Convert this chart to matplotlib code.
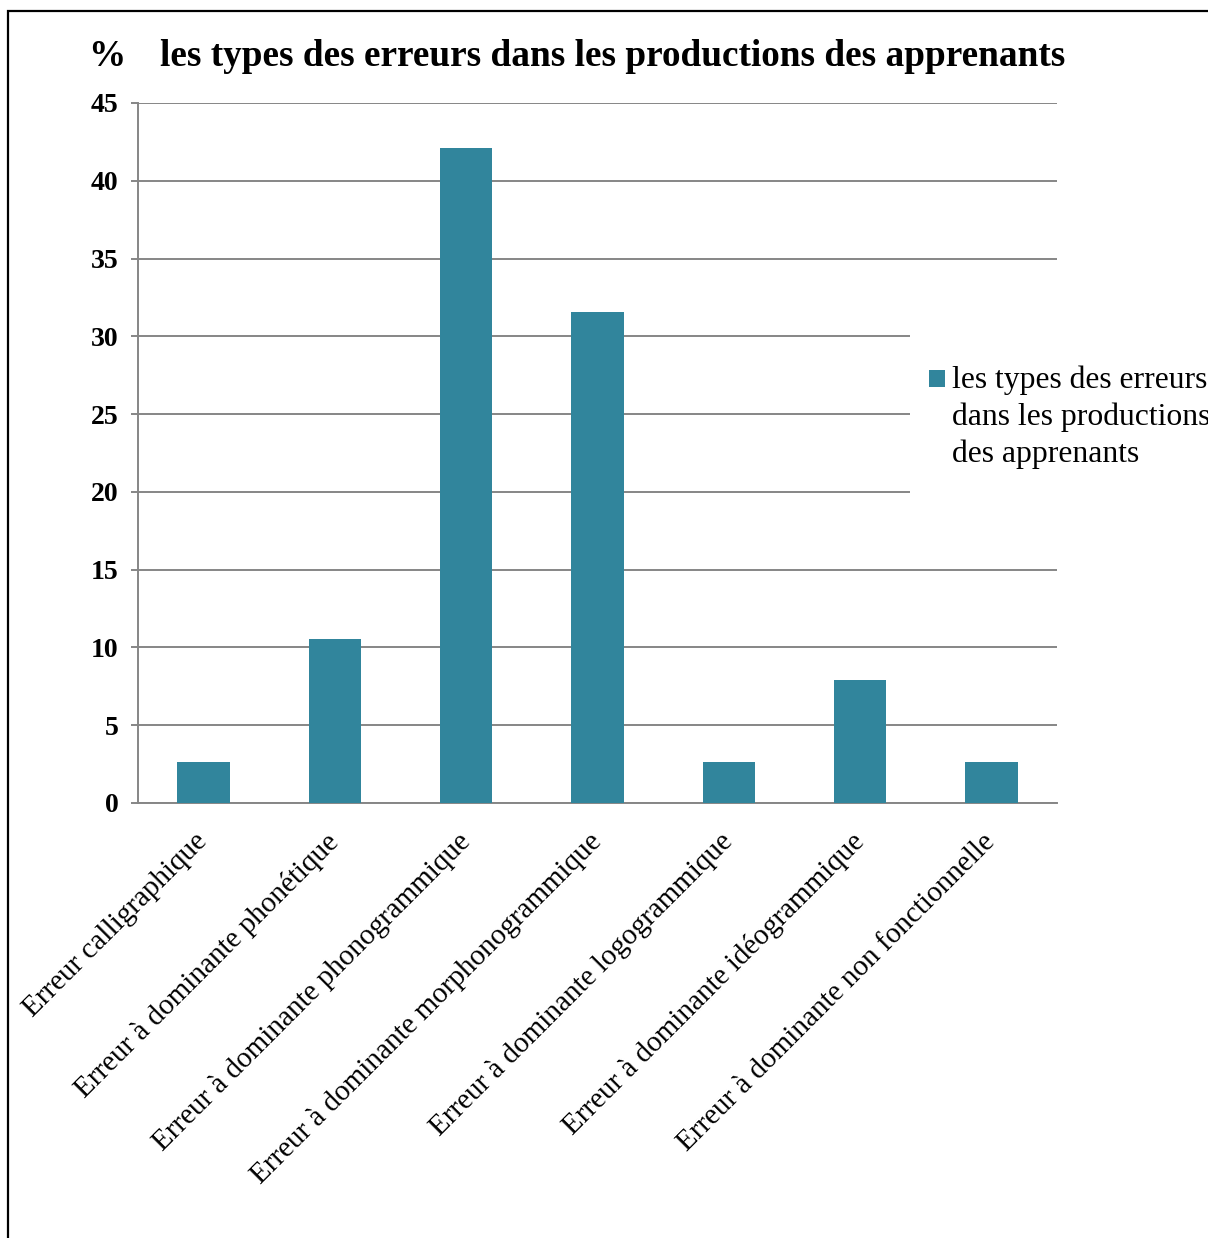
import matplotlib
matplotlib.use("Agg")
import matplotlib.pyplot as plt
from matplotlib.patches import Rectangle

categories = [
    "Erreur calligraphique",
    "Erreur à dominante phonétique",
    "Erreur à dominante phonogrammique",
    "Erreur à dominante morphonogrammique",
    "Erreur à dominante logogrammique",
    "Erreur à dominante idéogrammique",
    "Erreur à dominante non fonctionnelle",
]
percentages = [2.63, 10.53, 42.11, 31.58, 2.63, 7.89, 2.63]
y_ticks = [0, 5, 10, 15, 20, 25, 30, 35, 40, 45]

series_name = "les types des erreurs\ndans les productions\ndes apprenants"
title = "les types des erreurs dans les productions des apprenants"

BAR_COLOR = "#31859C"
GRID_COLOR = "#868686"
W, H = 1208, 1238


def draw_bars(ax):
    x = range(len(categories))
    ax.bar(x, percentages, width=0.4, color=BAR_COLOR, zorder=3)
    ax.set_xlim(-0.5, len(categories) - 0.5)
    ax.set_ylim(0, 45)
    ax.set_yticks(y_ticks)
    ax.set_xticks(list(x))
    ax.set_xticklabels(categories, rotation=45, ha="right", va="center",
                       rotation_mode="anchor", fontsize=21)
    for lbl in ax.get_yticklabels():
        lbl.set_fontweight("bold")
        lbl.set_fontsize(20)

    ax.yaxis.grid(True, color=GRID_COLOR, linewidth=1.4, zorder=0)
    ax.set_axisbelow(True)
    for side in ("top", "right"):
        ax.spines[side].set_visible(False)
    for side in ("left", "bottom"):
        ax.spines[side].set_color(GRID_COLOR)
        ax.spines[side].set_linewidth(1.4)
    ax.tick_params(axis="y", length=5, width=1.4, color=GRID_COLOR, pad=9)
    ax.tick_params(axis="x", length=0, pad=25)


def draw_legend(fig):
    # white legend box sitting over the grid lines, cut by the right edge
    fig.patches.append(Rectangle((910 / W, 1 - 515 / H), 0.3, 200 / H,
                                 transform=fig.transFigure, facecolor="white",
                                 edgecolor="none", zorder=4))
    fig.patches.append(Rectangle((929 / W, 1 - 387 / H), 16 / W, 17 / H,
                                 transform=fig.transFigure,
                                 facecolor=BAR_COLOR, edgecolor="none",
                                 zorder=5))
    for i, line in enumerate(series_name.split("\n")):
        fig.text(952 / W, 1 - (388 + 37 * i) / H, line, fontsize=22.8,
                 ha="left", va="baseline", zorder=6)


def create_plot(path_plot):
    plt.rcParams["font.family"] = ["Liberation Serif", "DejaVu Serif"]
    fig = plt.figure(figsize=(W / 100, H / 100), dpi=100)
    ax = fig.add_axes([138 / W, 1 - 803 / H, 919 / W, 700 / H])

    draw_bars(ax)
    draw_legend(fig)

    fig.text(88 / W, 1 - 66 / H, "%", fontsize=26.8, fontweight="bold",
             ha="left", va="baseline")
    fig.text(160 / W, 1 - 66 / H, title, fontsize=26.8, fontweight="bold",
             ha="left", va="baseline")

    # outer chart border, running off the right and bottom edges
    fig.patches.append(Rectangle((8 / W, -0.1), 1.2, 1 - 11 / H + 0.1,
                                 transform=fig.transFigure, fill=False,
                                 edgecolor="black", linewidth=1.6, zorder=7))

    fig.savefig(path_plot, dpi=100)


if __name__ == "__main__":
    create_plot("out.png")
